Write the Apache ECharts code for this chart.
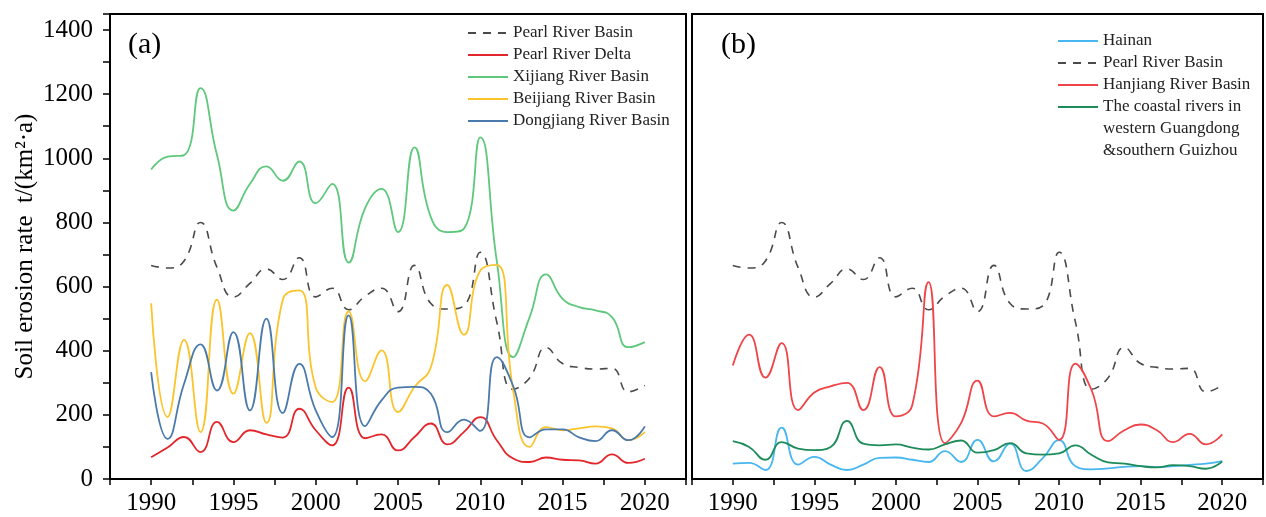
<!DOCTYPE html>
<html>
<head>
<meta charset="utf-8">
<script src="https://cdn.jsdelivr.net/npm/echarts@6/dist/echarts.min.js"></script>
<style>
html,body{margin:0;padding:0;background:#fff;}
#chart{width:1266px;height:517px;}
</style>
</head>
<body>
<div id="chart"></div>
<script>
const years = [1990,1991,1992,1993,1994,1995,1996,1997,1998,1999,2000,2001,2002,2003,2004,2005,2006,2007,2008,2009,2010,2011,2012,2013,2014,2015,2016,2017,2018,2019,2020];
const xTickLabels = [1990,1995,2000,2005,2010,2015,2020];
const yTickLabels = [0,200,400,600,800,1000,1200,1400];

const pearlRiverBasin = [666,658,680,800,660,567,610,655,622,690,568,595,528,570,595,522,666,547,530,540,707,490,280,315,410,360,348,343,345,272,292];
const pearlRiverDelta = [68,98,131,84,178,115,152,139,129,219,152,105,285,127,139,89,131,173,108,146,193,121,64,53,67,60,58,48,77,50,63];
const xijiang = [965,1005,1010,1219,1010,837,920,975,930,990,860,920,675,845,905,770,1034,816,770,780,1065,681,380,505,638,562,536,526,505,411,427];
const beijiang = [548,193,434,146,559,266,455,175,560,588,285,240,523,305,401,209,287,349,605,450,650,668,276,100,162,152,158,164,158,121,146];
const dongjiang = [333,125,297,420,276,458,214,500,206,359,214,131,510,165,245,285,287,266,146,185,150,380,290,130,155,155,130,118,152,121,164];

const hainan = [48,50,28,160,45,69,45,28,45,66,67,60,53,87,53,122,55,110,25,65,121,40,30,33,38,40,37,40,44,48,56];
const hanjiang = [354,450,316,424,215,270,289,300,215,349,195,230,614,112,175,307,195,206,182,173,122,360,276,118,152,170,152,115,141,108,139];
const coastal = [118,100,60,115,95,90,100,181,110,105,108,98,92,108,120,82,90,112,80,76,80,105,75,52,48,40,36,43,40,32,55];

const FONT = "'Liberation Serif','Times New Roman',serif";
const pairs = arr => years.map((y, i) => [y, arr[i]]);

function xAxis(gi) {
  return {
    type: 'value', gridIndex: gi, min: 1987.5, max: 2022.5, interval: 2.5,
    axisLine: {show: true, onZero: false, lineStyle: {color: '#000', width: 2}},
    axisTick: {show: true, inside: false, length: 6, lineStyle: {color: '#000', width: 1.5}},
    axisLabel: {show: true, margin: 12, color: '#000', fontFamily: FONT, fontSize: 25,
      formatter: v => xTickLabels.indexOf(Math.round(v * 10) / 10) >= 0 && Math.abs(v - Math.round(v)) < 1e-6 ? String(v) : ''},
    splitLine: {show: false}
  };
}
function yAxis(gi, labels) {
  return {
    type: 'value', gridIndex: gi, min: 0, max: 1450, interval: 100,
    axisLine: {show: true, lineStyle: {color: '#000', width: 2}},
    axisTick: {show: labels, inside: false, length: 7, lineStyle: {color: '#000', width: 1.5}},
    axisLabel: {show: labels, margin: 17, color: '#000', fontFamily: FONT, fontSize: 25,
      formatter: v => yTickLabels.indexOf(v) >= 0 ? String(v) : ''},
    splitLine: {show: false},
    name: labels ? 'Soil erosion rate  t/(km²·a)' : '',
    nameLocation: 'middle', nameGap: 72, nameRotate: 90,
    nameTextStyle: {color: '#000', fontFamily: FONT, fontSize: 25}
  };
}
function line(name, data, color, xi, dashed) {
  return {
    name: name, type: 'line', xAxisIndex: xi, yAxisIndex: xi,
    data: pairs(data), smooth: 0.5, showSymbol: false, symbol: 'none',
    lineStyle: {color: color, width: dashed ? 1.6 : 1.8, type: dashed ? [8, 7] : 'solid'},
    itemStyle: {color: color}, z: dashed ? 1 : 2
  };
}

const legendText = {color: '#222', fontFamily: FONT, fontSize: 17, lineHeight: 18};
const chart = echarts.init(document.getElementById('chart'), null, {renderer: 'canvas'});
chart.setOption({
  animation: false,
  backgroundColor: '#fff',
  grid: [
    {left: 110, top: 14, width: 576, height: 465, show: true, borderColor: '#000', borderWidth: 2, backgroundColor: 'transparent'},
    {left: 692, top: 14, width: 576, height: 465, show: true, borderColor: '#000', borderWidth: 2, backgroundColor: 'transparent'}
  ],
  xAxis: [xAxis(0), xAxis(1)],
  yAxis: [yAxis(0, true), yAxis(1, false)],
  legend: [
    {orient: 'vertical', left: 467, top: 24, padding: 0, itemWidth: 40, itemHeight: 10, itemGap: 4,
      textStyle: legendText, selectedMode: false, itemStyle: {opacity: 0, borderWidth: 0},
      data: ['Pearl River Basin', 'Pearl River Delta', 'Xijiang River Basin', 'Beijiang River Basin', 'Dongjiang River Basin']},
    {orient: 'vertical', left: 1057, top: 32, padding: 0, itemWidth: 40, itemHeight: 10, itemGap: 4,
      textStyle: legendText, selectedMode: false, itemStyle: {opacity: 0, borderWidth: 0},
      data: ['Hainan', 'Pearl River Basin', 'Hanjiang River Basin', 'The coastal rivers in']}
  ],
  graphic: [
    {type: 'text', left: 128, top: 30, style: {text: '(a)', font: "30px " + FONT, fill: '#000'}},
    {type: 'text', left: 721, top: 30, style: {text: '(b)', font: "30px " + FONT, fill: '#000'}},
    {type: 'text', left: 1103, top: 120, style: {text: 'western Guangdong', font: "17px " + FONT, fill: '#222'}},
    {type: 'text', left: 1103, top: 142, style: {text: '&southern Guizhou', font: "17px " + FONT, fill: '#222'}}
  ],
  series: [
    line('Pearl River Basin', pearlRiverBasin, '#4a4a4a', 0, true),
    line('Pearl River Delta', pearlRiverDelta, '#e3262b', 0, false),
    line('Xijiang River Basin', xijiang, '#5ec87c', 0, false),
    line('Beijiang River Basin', beijiang, '#fbc42c', 0, false),
    line('Dongjiang River Basin', dongjiang, '#4a7aab', 0, false),
    line('Hainan', hainan, '#48b6ef', 1, false),
    line('Pearl River Basin', pearlRiverBasin, '#4a4a4a', 1, true),
    line('Hanjiang River Basin', hanjiang, '#ef4448', 1, false),
    line('The coastal rivers in', coastal, '#1d8c5a', 1, false)
  ]
});
</script>
</body>
</html>
